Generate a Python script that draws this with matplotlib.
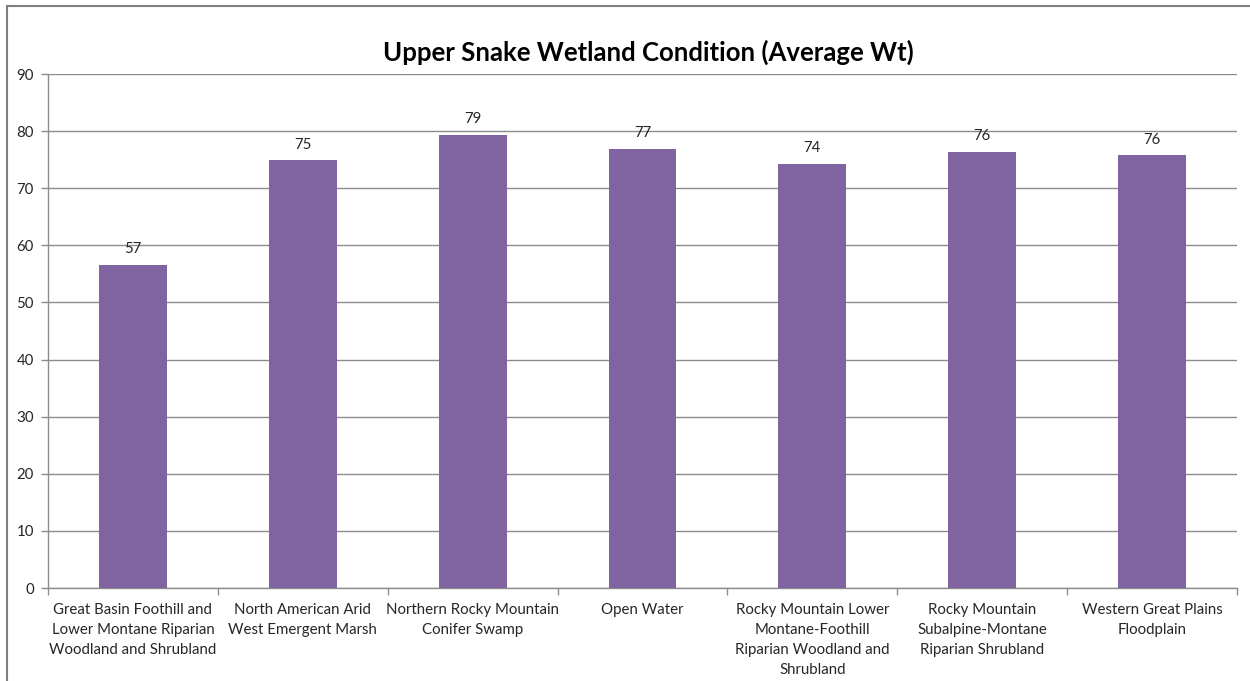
import matplotlib.pyplot as plt
from matplotlib.patches import Rectangle
import numpy as np

plt.rcParams['font.family'] = ['Lato', 'DejaVu Sans']

categories = [
    "Great Basin Foothill and\nLower Montane Riparian\nWoodland and Shrubland",
    "North American Arid\nWest Emergent Marsh",
    "Northern Rocky Mountain\nConifer Swamp",
    "Open Water",
    "Rocky Mountain Lower\nMontane-Foothill\nRiparian Woodland and\nShrubland",
    "Rocky Mountain\nSubalpine-Montane\nRiparian Shrubland",
    "Western Great Plains\nFloodplain",
]
avg_wt = [56.6, 74.9, 79.4, 76.9, 74.3, 76.4, 75.8]
y_ticks = [0, 10, 20, 30, 40, 50, 60, 70, 80, 90]

W, H = 1250, 681
fig = plt.figure(figsize=(W / 100, H / 100), dpi=100)
ax = fig.add_axes([48 / W, 1 - 588 / H, (1237 - 48) / W, (588 - 74) / H])

x = np.arange(len(categories))
bars = ax.bar(x, avg_wt, width=0.4, color='#8064A2', zorder=3)
for b, v in zip(bars, avg_wt):
    ax.text(b.get_x() + b.get_width() / 2, v + 1.5, f"{v:.0f}",
            ha='center', va='bottom', fontsize=10.8, color='#262626')

ax.set_xlim(-0.5, len(categories) - 0.5)
ax.set_ylim(0, 90)
ax.set_yticks(y_ticks)
ax.yaxis.grid(True, color='#8c8c8c', linewidth=1, zorder=0)

# category labels centered, tick marks on category boundaries
ax.set_xticks(x)
ax.set_xticklabels(categories, fontsize=10.8, color='#262626', linespacing=1.55)
ax.tick_params(axis='x', length=0, pad=11)
ax.set_xticks(np.arange(-0.5, len(categories)), minor=True)
ax.tick_params(axis='x', which='minor', length=5, color='#8c8c8c', width=1)
ax.tick_params(axis='y', length=5, color='#8c8c8c', width=1,
               labelsize=10.8, labelcolor='#262626', pad=5)

for s in ['top', 'right']:
    ax.spines[s].set_visible(False)
for s in ['left', 'bottom']:
    ax.spines[s].set_color('#8c8c8c')
    ax.spines[s].set_linewidth(1)

fig.text(648 / W, 1 - 52 / H, "Upper Snake Wetland Condition (Average Wt)",
         ha='center', va='center', fontsize=18.5, fontweight='bold', color='black')

# chart border
fig.patches.append(Rectangle((7 / W, -0.1), 1.1, 1 - 6 / H + 0.1,
                             transform=fig.transFigure, fill=False,
                             edgecolor='#7f7f7f', linewidth=1.5))

fig.savefig('out.png', dpi=100)
